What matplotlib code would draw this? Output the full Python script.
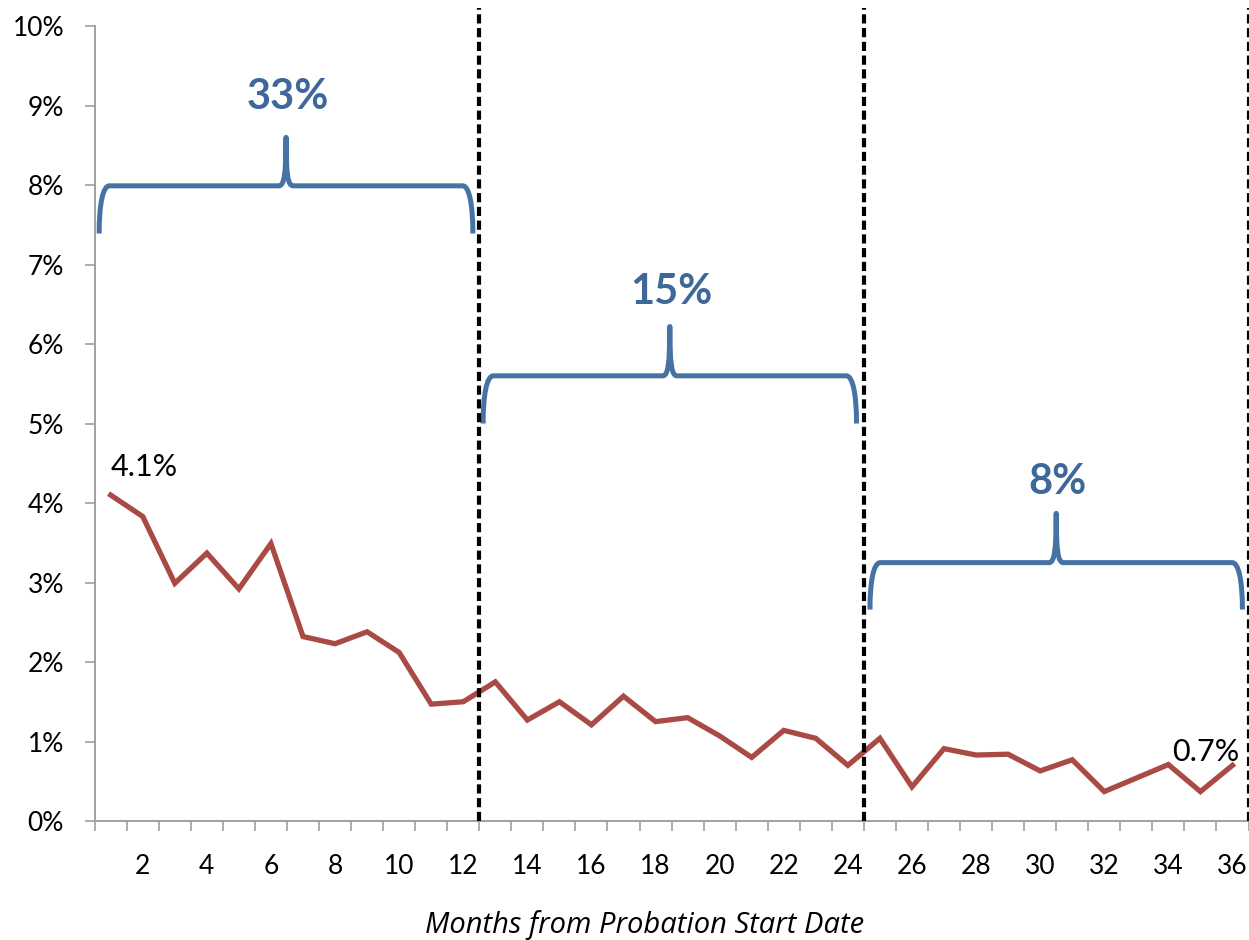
import matplotlib
matplotlib.use("Agg")
import matplotlib.pyplot as plt
from matplotlib.path import Path
from matplotlib.patches import PathPatch
from matplotlib.ticker import FuncFormatter
import numpy as np

plt.rcParams['font.family'] = ['Lato', 'DejaVu Sans']

# monthly rate (%) by months from probation start
months = list(range(1, 37))
rate = [4.10, 3.83, 2.99, 3.37, 2.92, 3.49, 2.32, 2.23, 2.38, 2.12, 1.47, 1.50,
        1.75, 1.27, 1.50, 1.21, 1.57, 1.25, 1.30, 1.07, 0.80, 1.14, 1.04, 0.70,
        1.04, 0.43, 0.91, 0.83, 0.84, 0.63, 0.77, 0.37, 0.54, 0.71, 0.37, 0.70]

# cumulative share per year, shown above each bracket
year_labels = ['33%', '15%', '8%']
year_breaks = [12.5, 24.5, 36.5]

line_red = '#A94A44'
brace_blue = '#4673A3'
text_blue = '#3D6899'
axis_gray = '#A0A0A0'


def draw_brace(ax, x0, x1, yb, yh, yt, rx=0.32, tx=0.22):
    """Curly brace opening downward, tip pointing up at the middle."""
    xc = (x0 + x1) / 2
    verts = [
        (x0, yb),
        (x0, yb + 0.6 * (yh - yb)), (x0 + 0.35 * rx, yh), (x0 + rx, yh),
        (xc - tx, yh),
        (xc - 0.25 * tx, yh), (xc, yh + 0.25 * (yt - yh)), (xc, yt),
        (xc, yh + 0.25 * (yt - yh)), (xc + 0.25 * tx, yh), (xc + tx, yh),
        (x1 - rx, yh),
        (x1 - 0.35 * rx, yh), (x1, yb + 0.6 * (yh - yb)), (x1, yb),
    ]
    codes = [Path.MOVETO,
             Path.CURVE4, Path.CURVE4, Path.CURVE4,
             Path.LINETO,
             Path.CURVE4, Path.CURVE4, Path.CURVE4,
             Path.CURVE4, Path.CURVE4, Path.CURVE4,
             Path.LINETO,
             Path.CURVE4, Path.CURVE4, Path.CURVE4]
    patch = PathPatch(Path(verts, codes), facecolor='none', edgecolor=brace_blue,
                      lw=3.6, capstyle='butt', joinstyle='round')
    ax.add_patch(patch)
    return xc


fig, ax = plt.subplots(figsize=(12.49, 9.40), dpi=100)
fig.subplots_adjust(left=0.0758, right=0.9996, bottom=0.1266, top=0.9723)

ax.plot(months, rate, color=line_red, lw=3.8, solid_joinstyle='miter')

# year boundaries
for xb in year_breaks:
    ax.axvline(xb, ymin=0, ymax=1.023, color='black', lw=3.0,
               dashes=(2.2, 1.1), clip_on=False, zorder=3)

# brackets with year totals
braces = [(0.64, 12.30, 7.39, 7.99, 8.60, 9.11),
          (12.62, 24.27, 5.00, 5.60, 6.22, 6.65),
          (24.69, 36.31, 2.66, 3.25, 3.87, 4.26)]
for (x0, x1, yb, yh, yt, ylab), lab in zip(braces, year_labels):
    xc = draw_brace(ax, x0, x1, yb, yh, yt)
    ax.text(xc + 0.05, ylab, lab, color=text_blue, fontsize=30,
            fontweight='bold', ha='center', va='center')

ax.text(2.05, 4.34, '4.1%', fontsize=22, ha='center', va='baseline')
ax.text(36.23, 0.76, '0.7%', fontsize=22, ha='right', va='baseline')

ax.set_xlim(0.5, 36.5)
ax.set_ylim(0, 10)
ax.set_yticks(range(0, 11))
ax.yaxis.set_major_formatter(FuncFormatter(lambda v, p: f'{int(v)}%'))
ax.set_xticks(range(2, 37, 2))
ax.set_xticks(np.arange(0.5, 37, 1), minor=True)

for side in ['top', 'right']:
    ax.spines[side].set_visible(False)
for side in ['left', 'bottom']:
    ax.spines[side].set_color(axis_gray)
    ax.spines[side].set_linewidth(1.4)

ax.tick_params(axis='y', length=7, width=1.2, color=axis_gray,
               labelsize=19, pad=15)
ax.tick_params(axis='x', which='major', length=0, labelsize=19, pad=24)
ax.tick_params(axis='x', which='minor', length=7, width=1.2, color=axis_gray)

ax.set_xlabel('Months from Probation Start Date', fontsize=21,
              fontstyle='italic', family=['Open Sans', 'Lato'])
ax.xaxis.label.set_va('baseline')
ax.xaxis.set_label_coords(0.477, -0.1409)

fig.savefig('out.png', dpi=100)
